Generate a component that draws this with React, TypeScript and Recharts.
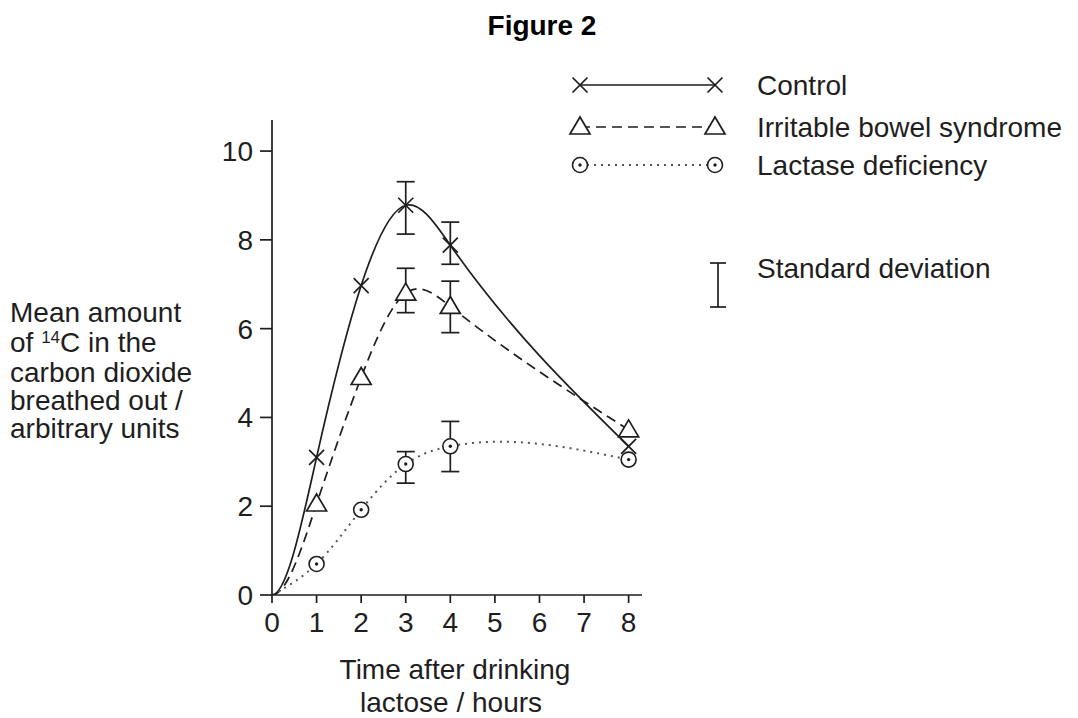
import React from 'react';
import { LineChart, Line, XAxis, YAxis, ErrorBar, Legend } from 'recharts';

const hours = [0, 1, 2, 3, 4, 8];
const control = [0, 3.1, 6.97, 8.78, 7.88, 3.35];
const ibs = [0, 2.05, 4.9, 6.8, 6.5, 3.72];
const lactase = [0, 0.7, 1.92, 2.95, 3.35, 3.05];
// standard deviation bar ends (absolute values), null where none is drawn
const controlSdLow = [null, null, null, 8.13, 7.45, null];
const controlSdHigh = [null, null, null, 9.31, 8.4, null];
const ibsSdLow = [null, null, null, 6.36, 5.91, null];
const ibsSdHigh = [null, null, null, 7.36, 7.07, null];
const lactaseSdLow = [null, null, null, 2.52, 2.78, null];
const lactaseSdHigh = [null, null, null, 3.23, 3.91, null];
const xTicks = [0, 1, 2, 3, 4, 5, 6, 7, 8];
const yTicks = [0, 2, 4, 6, 8, 10];

const seriesNames = ['Control', 'Irritable bowel syndrome', 'Lactase deficiency'];

const err = (v: number, lo: (number | null)[], hi: (number | null)[], i: number) =>
  lo[i] == null || hi[i] == null ? null : [v - (lo[i] as number), (hi[i] as number) - v];

const data = hours.map((h, i) => ({
  h,
  control: control[i],
  ibs: ibs[i],
  lactase: lactase[i],
  controlErr: err(control[i], controlSdLow, controlSdHigh, i),
  ibsErr: err(ibs[i], ibsSdLow, ibsSdHigh, i),
  lactaseErr: err(lactase[i], lactaseSdLow, lactaseSdHigh, i),
}));

// Cubic spline curve factory (y as a function of x) for the Line "type" prop.
// clampStart: start with a flat tangent; otherwise natural end conditions.
const makeSpline = (clampStart: boolean) => (context: any) => {
  let xs: number[] = [];
  let ys: number[] = [];
  return {
    areaStart() {},
    areaEnd() {},
    lineStart() {
      xs = [];
      ys = [];
    },
    point(x: number, y: number) {
      xs.push(+x);
      ys.push(+y);
    },
    lineEnd() {
      const n = xs.length;
      if (n === 0) return;
      context.moveTo(xs[0], ys[0]);
      if (n === 1) return;
      if (n === 2) {
        context.lineTo(xs[1], ys[1]);
        return;
      }
      const h: number[] = [];
      for (let i = 0; i < n - 1; i++) h.push(xs[i + 1] - xs[i]);
      const a = new Array(n).fill(0);
      const b = new Array(n).fill(0);
      const c = new Array(n).fill(0);
      const d = new Array(n).fill(0);
      if (clampStart) {
        b[0] = 2 * h[0];
        c[0] = h[0];
        d[0] = 6 * ((ys[1] - ys[0]) / h[0] - 0);
      } else {
        b[0] = 1;
        c[0] = 0;
        d[0] = 0;
      }
      for (let i = 1; i < n - 1; i++) {
        a[i] = h[i - 1];
        b[i] = 2 * (h[i - 1] + h[i]);
        c[i] = h[i];
        d[i] = 6 * ((ys[i + 1] - ys[i]) / h[i] - (ys[i] - ys[i - 1]) / h[i - 1]);
      }
      b[n - 1] = 1;
      a[n - 1] = 0;
      d[n - 1] = 0;
      // Thomas algorithm
      const cp = new Array(n).fill(0);
      const dp = new Array(n).fill(0);
      cp[0] = c[0] / b[0];
      dp[0] = d[0] / b[0];
      for (let i = 1; i < n; i++) {
        const m = b[i] - a[i] * cp[i - 1];
        cp[i] = c[i] / m;
        dp[i] = (d[i] - a[i] * dp[i - 1]) / m;
      }
      const M = new Array(n).fill(0);
      M[n - 1] = dp[n - 1];
      for (let i = n - 2; i >= 0; i--) M[i] = dp[i] - cp[i] * M[i + 1];
      for (let i = 0; i < n - 1; i++) {
        const hh = h[i];
        const sec = (ys[i + 1] - ys[i]) / hh;
        const m0 = sec - (hh * (2 * M[i] + M[i + 1])) / 6;
        const m1 = sec + (hh * (M[i] + 2 * M[i + 1])) / 6;
        context.bezierCurveTo(
          xs[i] + hh / 3,
          ys[i] + (m0 * hh) / 3,
          xs[i + 1] - hh / 3,
          ys[i + 1] - (m1 * hh) / 3,
          xs[i + 1],
          ys[i + 1],
        );
      }
    },
  };
};

const flatStartSpline = makeSpline(true);
const naturalSpline = makeSpline(false);

const INK = '#1e1e1e';
const FONT = '"Liberation Sans", Arial, Helvetica, sans-serif';
const FS = 28;

const Cross = ({ cx, cy, index }: any) => {
  if (cx == null || cy == null || index === 0) return null;
  const s = 7.5;
  return (
    <g stroke={INK} strokeWidth={1.7}>
      <line x1={cx - s} y1={cy - s} x2={cx + s} y2={cy + s} />
      <line x1={cx - s} y1={cy + s} x2={cx + s} y2={cy - s} />
    </g>
  );
};

const Tri = ({ cx, cy, index }: any) => {
  if (cx == null || cy == null || index === 0) return null;
  return (
    <polygon
      points={`${cx},${cy - 10} ${cx - 10},${cy + 7} ${cx + 10},${cy + 7}`}
      fill="#fff"
      stroke={INK}
      strokeWidth={1.7}
    />
  );
};

const Ring = ({ cx, cy, index }: any) => {
  if (cx == null || cy == null || index === 0) return null;
  return (
    <g>
      <circle cx={cx} cy={cy} r={7.5} fill="#fff" stroke={INK} strokeWidth={1.6} />
      <circle cx={cx} cy={cy} r={1.7} fill={INK} />
    </g>
  );
};

const LegendBox = () => {
  const rows = [
    { y: 25, dash: undefined, stroke: INK, w: 1.7, M: Cross },
    { y: 67, dash: '10 6', stroke: INK, w: 1.7, M: Tri },
    { y: 105, dash: '2 5', stroke: '#555', w: 2, M: Ring },
  ];
  return (
    <svg width={480} height={260} style={{ overflow: 'visible', display: 'block' }}>
      {rows.map((r, i) => (
        <g key={i}>
          <line x1={20} y1={r.y} x2={155} y2={r.y} stroke={r.stroke} strokeWidth={r.w} strokeDasharray={r.dash} />
          <r.M cx={20} cy={r.y} index={1} />
          <r.M cx={155} cy={r.y} index={1} />
          <text x={197} y={r.y + 10} fontFamily={FONT} fontSize={FS} fill={INK}>
            {seriesNames[i]}
          </text>
        </g>
      ))}
      <g stroke={INK} strokeWidth={1.7}>
        <line x1={158} y1={203} x2={158} y2={247} />
        <line x1={150} y1={203} x2={166} y2={203} />
        <line x1={150} y1={247} x2={166} y2={247} />
      </g>
      <text x={197} y={218} fontFamily={FONT} fontSize={FS} fill={INK}>
        Standard deviation
      </text>
    </svg>
  );
};

export default function App() {
  return (
    <div style={{ position: 'absolute', left: 0, top: 0, width: 1078, height: 718, background: '#fff' }}>
      <LineChart
        width={1078}
        height={718}
        data={data}
        margin={{ top: 120, right: 436, bottom: 93, left: 212 }}
      >
        <XAxis
          dataKey="h"
          type="number"
          domain={[0, 8.3]}
          ticks={xTicks}
          allowDataOverflow
          tickSize={8}
          tickMargin={9}
          height={30}
          stroke={INK}
          strokeWidth={1.7}
          tick={{ fill: INK, fontSize: FS, fontFamily: FONT }}
          interval={0}
        />
        <YAxis
          type="number"
          domain={[0, 10.7]}
          ticks={yTicks}
          allowDataOverflow
          tickSize={12}
          tickMargin={7}
          width={60}
          stroke={INK}
          strokeWidth={1.7}
          tick={{ fill: INK, fontSize: FS, fontFamily: FONT }}
          interval={0}
        />
        <Legend
          layout="vertical"
          align="center"
          verticalAlign="middle"
          content={<LegendBox />}
          wrapperStyle={{ position: 'absolute', left: 560, top: 60, width: 480, height: 260 }}
        />
        <Line
          type={flatStartSpline as any}
          dataKey="control"
          name={seriesNames[0]}
          stroke={INK}
          strokeWidth={1.7}
          dot={<Cross />}
          activeDot={false}
          isAnimationActive={false}
        >
          <ErrorBar dataKey="controlErr" direction="y" width={9} stroke={INK} strokeWidth={1.7} />
        </Line>
        <Line
          type={flatStartSpline as any}
          dataKey="ibs"
          name={seriesNames[1]}
          stroke={INK}
          strokeWidth={1.7}
          strokeDasharray="10 6"
          dot={<Tri />}
          activeDot={false}
          isAnimationActive={false}
        >
          <ErrorBar dataKey="ibsErr" direction="y" width={9} stroke={INK} strokeWidth={1.7} />
        </Line>
        <Line
          type={naturalSpline as any}
          dataKey="lactase"
          name={seriesNames[2]}
          stroke="#555"
          strokeWidth={2}
          strokeDasharray="2 5"
          dot={<Ring />}
          activeDot={false}
          isAnimationActive={false}
        >
          <ErrorBar dataKey="lactaseErr" direction="y" width={9} stroke={INK} strokeWidth={1.7} />
        </Line>
      </LineChart>
      <svg
        width={1078}
        height={718}
        style={{ position: 'absolute', left: 0, top: 0, pointerEvents: 'none' }}
      >
        <text x={542} y={35} textAnchor="middle" fontFamily={FONT} fontSize={FS} fontWeight="bold" fill="#000">
          Figure 2
        </text>
        <g fontFamily={FONT} fontSize={FS} fill={INK}>
          <text x={10} y={322}>Mean amount</text>
          <text x={10} y={352}>
            of <tspan fontSize={17} dy={-9}>14</tspan><tspan dy={9}>C in the</tspan>
          </text>
          <text x={10} y={382}>carbon dioxide</text>
          <text x={10} y={410}>breathed out /</text>
          <text x={10} y={438}>arbitrary units</text>
          <text x={455} y={679} textAnchor="middle">Time after drinking</text>
          <text x={451} y={712} textAnchor="middle">lactose / hours</text>
        </g>
      </svg>
    </div>
  );
}
